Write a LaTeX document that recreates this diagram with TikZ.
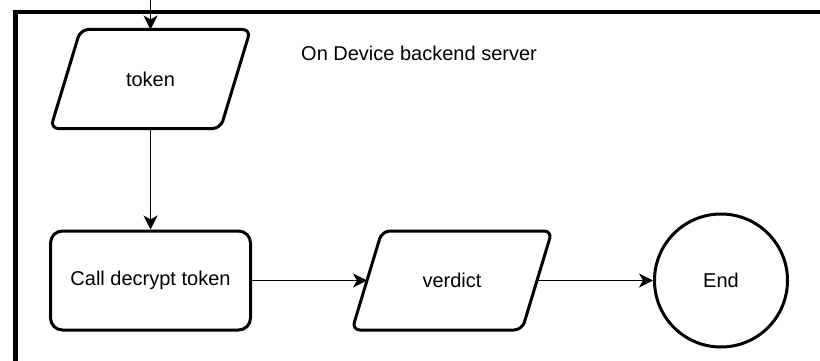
\documentclass[tikz,border=0pt]{standalone}
\usepackage{fontspec}
\setmainfont{Liberation Sans}
\usetikzlibrary{arrows.meta,calc}
\tikzset{
  labelfont/.style={font=\fontsize{20}{24}\selectfont},
  shapeline/.style={line width=3pt, line join=round},
  procbox/.style={draw, shapeline, rounded corners=12pt, minimum width=200pt,
    minimum height=99pt, inner sep=0pt, labelfont},
  % io boxes: the node spans the mid-height width, so west/east sit on the slanted sides
  iobox/.style={minimum width=170pt, minimum height=99pt, inner sep=0pt, outer sep=0pt, labelfont},
  endcircle/.style={draw, shapeline, circle, minimum size=133pt, inner sep=0pt, labelfont},
  flow/.style={line width=1.8pt, -{Stealth[length=14pt,width=14pt,inset=4pt]}},
  pool/.style={line width=4.5pt},
}
\newcommand{\ioshape}[1]{%
  \draw[shapeline, rounded corners=8pt]
    (#1.north) -- ($(#1.north east)+(15pt,0)$) -- ($(#1.south east)+(-15pt,0)$)
    -- ($(#1.south west)+(-15pt,0)$) -- ($(#1.north west)+(15pt,0)$) -- cycle;}
\begin{document}
\begin{tikzpicture}[x=1pt, y=-1pt]
  \clip (0,0) rectangle (820,361);
  \useasboundingbox (0,0) rectangle (820,361);

  % server container, running past the right and bottom edges
  \draw[pool] (15.5,12) rectangle (860,400);
  \node[labelfont, anchor=west, inner sep=0pt] (title) at (301,53) {On Device backend server};

  % shapes
  \node[iobox] (tok) at (150.5,79) {token};
  \ioshape{tok}
  \node[procbox] (call) at (150.5,280.5) {Call decrypt token};
  \node[iobox] (ver) at (452,280.5) {verdict};
  \ioshape{ver}
  \node[endcircle] (end) at (721,280.5) {End};

  % connectors
  \coordinate (entry) at (150.5,-5);
  \draw[flow] (entry) -- (tok.north);
  \draw[flow] (tok.south) -- (call.north);
  \draw[flow] (call.east) -- (ver.west);
  \draw[flow] (ver.east) -- (end.west);
\end{tikzpicture}
\end{document}
